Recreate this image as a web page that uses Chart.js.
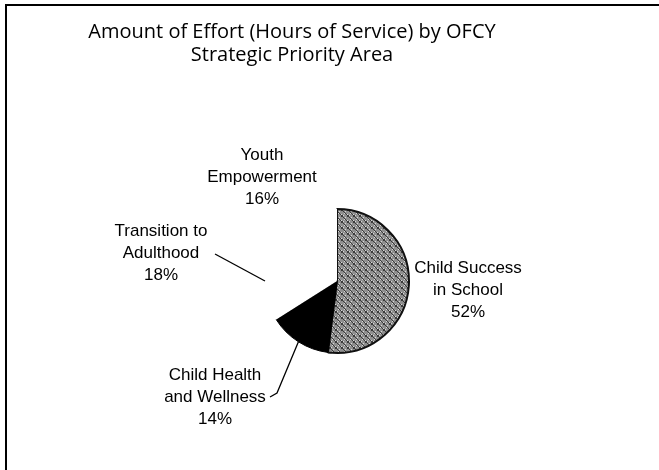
<!DOCTYPE html>
<html>
<head>
<meta charset="utf-8">
<script src="https://cdn.jsdelivr.net/npm/chart.js@4"></script>
<style>
  html, body { margin: 0; padding: 0; background: #fff; }
  #wrap { width: 659px; height: 470px; }
</style>
</head>
<body>
<div id="wrap"><canvas id="pieChart" width="659" height="470"></canvas></div>
<script>
// ข้อมูลของกราฟ
const titleLines = ['Amount of Effort (Hours of Service) by OFCY', 'Strategic Priority Area'];
const categories = [
    ['Child Success', 'in School'],
    ['Child Health', 'and Wellness'],
    ['Transition to', 'Adulthood'],
    ['Youth', 'Empowerment']
];
const shares = [52, 14, 18, 16];

// ตำแหน่งป้ายกำกับ (เทียบกับจุดศูนย์กลางของวงกลม) แยกจากข้อมูล
const labelOffsets = [[131, 9], [-122, 116], [-176, -28], [-75, -104]];
// เส้นชี้: จุดเริ่มเทียบกับตำแหน่งป้าย แล้วลากไปที่ขอบชิ้น
const leaderPoints = [null, [[55, 0], [62, -4]], [[54, 1]], null];

// ลวดลายจุดสีเทาของชิ้นใหญ่
function makeTexture() {
    const c = document.createElement('canvas');
    c.width = 6; c.height = 6;
    const g = c.getContext('2d');
    g.fillStyle = '#8f8f8f';
    g.fillRect(0, 0, 6, 6);
    for (let y = 0; y < 6; y++) {
        for (let x = 0; x < 6; x++) {
            if ((x * 2 + y * 3) % 5 === 0) { g.fillStyle = '#3a3a3a'; g.fillRect(x, y, 1, 1); }
            else if ((x + y * 4) % 7 === 0) { g.fillStyle = '#d8d8d8'; g.fillRect(x, y, 1, 1); }
        }
    }
    return g.createPattern(c, 'repeat');
}

const framePlugin = {
    id: 'frame',
    beforeDraw(chart) {
        const ctx = chart.ctx;
        ctx.save();
        ctx.fillStyle = '#fff';
        ctx.fillRect(0, 0, chart.width, chart.height);
        ctx.strokeStyle = '#000';
        ctx.lineWidth = 2;
        ctx.beginPath();
        ctx.moveTo(6, 470);
        ctx.lineTo(6, 5);
        ctx.lineTo(659, 5);
        ctx.stroke();
        // ชื่อกราฟ
        ctx.fillStyle = '#000';
        ctx.font = '20px "Open Sans"';
        ctx.textAlign = 'center';
        ctx.textBaseline = 'middle';
        titleLines.forEach((t, i) => ctx.fillText(t, 292, 32 + i * 23));
        ctx.restore();
    }
};

const labelPlugin = {
    id: 'sliceLabels',
    afterDraw(chart) {
        const ctx = chart.ctx;
        const arcs = chart.getDatasetMeta(0).data;
        ctx.save();
        ctx.fillStyle = '#000';
        ctx.strokeStyle = '#000';
        ctx.lineWidth = 1.3;
        ctx.font = '17px "Liberation Sans", Arial, sans-serif';
        ctx.textAlign = 'center';
        ctx.textBaseline = 'middle';
        arcs.forEach((arc, i) => {
            const cx = arc.x + labelOffsets[i][0];
            const cy = arc.y + labelOffsets[i][1];
            const lines = categories[i].concat([shares[i] + '%']);
            lines.forEach((t, j) => ctx.fillText(t, cx, cy + (j - 1) * 22));
            if (leaderPoints[i]) {
                const mid = (arc.startAngle + arc.endAngle) / 2;
                ctx.beginPath();
                leaderPoints[i].forEach((p, k) => {
                    if (k === 0) ctx.moveTo(cx + p[0], cy + p[1]);
                    else ctx.lineTo(cx + p[0], cy + p[1]);
                });
                ctx.lineTo(arc.x + Math.cos(mid) * arc.outerRadius, arc.y + Math.sin(mid) * arc.outerRadius);
                ctx.stroke();
            }
        });
        ctx.restore();
    }
};

const pieChart = new Chart(
    document.getElementById('pieChart'),
    {
        type: 'pie',
        data: {
            labels: categories.map(c => c.join(' ')),
            datasets: [{
                data: shares,
                backgroundColor: [makeTexture(), '#000', '#fff', '#fff'],
                borderColor: ['#111', '#000', '#fff', '#fff'],
                borderWidth: [2, 1, 0, 0]
            }]
        },
        options: {
            responsive: false,
            animation: false,
            events: [],
            radius: 72,
            layout: { padding: { left: 265, right: 250, top: 209, bottom: 117 } },
            plugins: {
                legend: { display: false },
                title: { display: false },
                tooltip: { enabled: false }
            }
        },
        plugins: [framePlugin, labelPlugin]
    }
);
</script>
</body>
</html>
